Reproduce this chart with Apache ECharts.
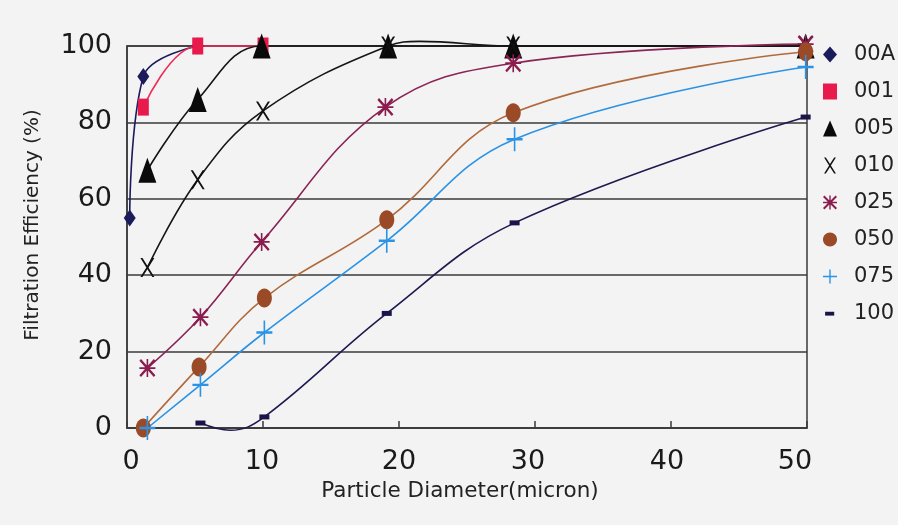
<!DOCTYPE html>
<html>
<head>
<meta charset="utf-8">
<script src="https://cdn.jsdelivr.net/npm/echarts@6/dist/echarts.min.js"></script>
<style>
html,body{margin:0;padding:0;background:#f3f3f3;}
#c{width:898px;height:525px;}
</style>
</head>
<body>
<div id="c"></div>
<script>
// ---- data ----
const seriesNames = ['00A','001','005','010','025','050','075','100'];
const d00A = [[0.2,55],[1.2,92],[5.2,100]];
const d001 = [[1.2,84],[5.2,100],[10,100]];
const d005 = [[1.5,67.5],[5.2,86],[9.9,100],[19.2,100],[28.4,100],[49.9,100]];
const d010 = [[1.5,42],[5.2,65],[10,83],[19.2,100],{value:[21.5,101.2],symbol:'none'},[28.4,100],[49.9,100]];
const d025 = [[1.5,15.7],[5.4,29],[9.9,48.7],[19,84],[28.4,95.5],[49.9,100.5]];
const d050 = [[1.2,0],[5.3,16],[10.1,34],[19.1,54.5],[28.4,82.5],[49.9,98.5]];
const d075 = [[1.5,0],[5.4,11.3],[10.1,25],[19.1,49],[28.5,75.6],[49.9,94.5]];
const d100 = [[5.4,1.3],{value:[7.6,-0.6],symbol:'none'},[10.1,2.9],[19.1,30],[28.5,53.7],[49.9,81.4]];
const xTicks = [0,10,20,30,40,50];
const yTicks = [0,20,40,60,80,100];

// ---- symbols ----
const SYM_X = 'path://M0,0 L3,0 L10,11 L17,0 L20,0 L11.5,13.5 L20,27 L17,27 L10,16 L3,27 L0,27 L8.5,13.5 Z';
const SYM_AST = 'path://M9,0 h2 v20 h-2 Z M0,9 h20 v2 h-20 Z M2,0 L20,18 L18,20 L0,2 Z M18,0 L20,2 L2,20 L0,18 Z';
const SYM_PLUS = 'path://M9,0 h2 v20 h-2 Z M0,9 h20 v2 h-20 Z';
const SYM_ELL = 'path://M10,0 C15.5,0 20,4.5 20,10 C20,15.5 15.5,20 10,20 C4.5,20 0,15.5 0,10 C0,4.5 4.5,0 10,0 Z';
const LEG_DASH = 'path://M0,0 M20,20 M3,7.5 h13 v5.5 h-13 Z';

const cfg = [
  {name:'00A', data:d00A, color:'#1b1b5c', lineColor:'#1b1b5c', symbol:'diamond', size:[12,17], leg:'diamond'},
  {name:'001', data:d001, color:'#e8194b', lineColor:'#ee2a58', symbol:'rect', size:[11,17], leg:'rect'},
  {name:'005', data:d005, color:'#0a0a0a', lineColor:'#151515', symbol:'triangle', size:[18,25], leg:'triangle'},
  {name:'010', data:d010, color:'#111111', lineColor:'#151515', symbol:SYM_X, size:[14,19], leg:SYM_X},
  {name:'025', data:d025, color:'#8a1c4e', lineColor:'#8a2455', symbol:SYM_AST, size:[16,18], leg:SYM_AST},
  {name:'050', data:d050, color:'#9a4a26', lineColor:'#b06a3c', symbol:SYM_ELL, size:[15,19], leg:SYM_ELL},
  {name:'075', data:d075, color:'#2a93e6', lineColor:'#2a93e6', symbol:SYM_PLUS, size:[16,24], leg:SYM_PLUS},
  {name:'100', data:d100, color:'#1a1448', lineColor:'#1e1a50', symbol:'rect', size:[10,5], leg:LEG_DASH}
];

const FONT = '"DejaVu Sans", sans-serif';
// shift of each x tick label (px) to sit where the reference prints it
const xLabelShift = {0:4, 10:-1, 20:0, 30:-7, 40:-4, 50:-12};
const rich = {};
xTicks.forEach(v => {
  const s = xLabelShift[v];
  rich['t' + v] = {fontSize:27, color:'#1a1a1a', fontFamily:FONT,
    padding: s >= 0 ? [0,0,0,2*s] : [0,-2*s,0,0]};
});

const chart = echarts.init(document.getElementById('c'), null, {renderer:'canvas'});
chart.setOption({
  backgroundColor:'#f3f3f3',
  animation:false,
  grid:{left:127, right:91, top:46, bottom:97, show:true, borderColor:'#3a3a3a', borderWidth:1.5, backgroundColor:'transparent'},
  legend:{
    orient:'vertical', left:818, top:39,
    itemWidth:14, itemHeight:16, itemGap:16,
    textStyle:{fontSize:21, color:'#222', fontFamily:FONT, padding:[0,0,0,12]},
    data: cfg.map(c => ({name:c.name, icon:c.leg, itemStyle:{color:c.color}}))
  },
  xAxis:{
    type:'value', min:0, max:50, interval:10,
    name:'Particle Diameter(micron)', nameLocation:'middle', nameGap:52,
    nameTextStyle:{fontSize:21.5, color:'#222', fontFamily:FONT, padding:[0,14,0,0]},
    axisLine:{lineStyle:{color:'#3a3a3a', width:1.5}},
    axisTick:{show:true, inside:true, length:7, lineStyle:{color:'#3a3a3a', width:1.5}},
    axisLabel:{fontSize:27, color:'#1a1a1a', margin:20, fontFamily:FONT, rich: rich,
      formatter: v => xTicks.includes(v) ? '{t' + v + '|' + v + '}' : ''},
    splitLine:{show:false}
  },
  yAxis:{
    type:'value', min:0, max:100, interval:20,
    name:'Filtration Efficiency (%)', nameLocation:'middle', nameGap:84,
    nameTextStyle:{fontSize:20, color:'#222', fontFamily:FONT, padding:[0,0,0,24]},
    axisLine:{show:true, lineStyle:{color:'#3a3a3a', width:1.5}},
    axisTick:{show:false},
    axisLabel:{fontSize:27, color:'#1a1a1a', margin:15, fontFamily:FONT, padding:[0,0,4,0],
      formatter: v => yTicks.includes(v) ? String(v) : ''},
    splitLine:{show:true, lineStyle:{color:'#3a3a3a', width:1.5}}
  },
  series: cfg.map(c => ({
    name:c.name, type:'line', data:c.data, smooth:0.4, clip:false,
    symbol:c.symbol, symbolSize:c.size, showAllSymbol:true,
    itemStyle:{color:c.color},
    lineStyle:{color:c.lineColor, width:1.6},
    z: 3
  }))
});
</script>
</body>
</html>
